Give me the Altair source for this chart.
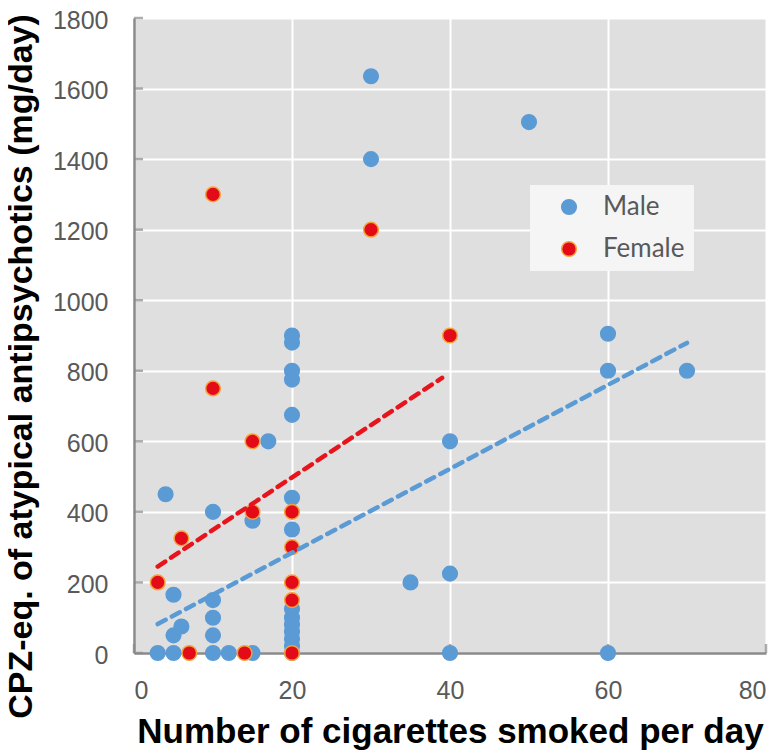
import altair as alt
import pandas as pd

# ---- data ----
male_x = [30, 50, 30, 20, 20, 20, 20, 20, 60, 60, 70, 17, 40, 4, 20, 10, 15, 20, 40, 35,
          5, 10, 20, 20, 20, 20, 20, 20, 10, 6, 10, 5, 3, 5, 10, 12, 15, 20, 40, 60]
male_y = [1635, 1505, 1400, 900, 880, 800, 775, 675, 905, 800, 800, 600, 600, 450, 440, 400, 375, 350, 225, 200,
          165, 150, 125, 100, 80, 60, 40, 20, 100, 75, 50, 50, 0, 0, 0, 0, 0, 0, 0, 0]
female_x = [10, 30, 40, 10, 15, 15, 20, 6, 20, 3, 20, 20, 7, 14, 20]
female_y = [1300, 1200, 900, 750, 600, 400, 400, 325, 300, 200, 200, 150, 0, 0, 0]

male_fit_x = [3, 70]
male_fit_y = [82, 879]
female_fit_x = [3, 39]
female_fit_y = [245, 780]

x_ticks = [0, 20, 40, 60, 80]
y_ticks = [0, 200, 400, 600, 800, 1000, 1200, 1400, 1600, 1800]
groups = ["Male", "Female"]

BLUE = "#5b9bd5"
RED = "#e30b17"
ORANGE = "#f4a23a"
AXC = "#8a8a8a"
LABC = "#595959"

H = 635

pts = pd.DataFrame({
    "x": male_x + female_x,
    "y": male_y + female_y,
    "sex": ["Male"] * len(male_x) + ["Female"] * len(female_x),
    "ord": list(range(len(male_x) + len(female_x))),
})
fits = pd.DataFrame({
    "x": male_fit_x + female_fit_x,
    "y": male_fit_y + female_fit_y,
    "sex": ["Male"] * len(male_fit_x) + ["Female"] * len(female_fit_x),
})
ytk = pd.DataFrame({"y": y_ticks})
xtk = pd.DataFrame({"x": x_ticks})

xs = alt.Scale(domain=[0, 80], nice=False, zero=False)
ys = alt.Scale(domain=[0, 1800], nice=False)

leg = alt.Legend(
    title=None, orient="none", legendX=396, legendY=167,
    fillColor="#f5f5f5", padding=9, symbolOffset=17, labelOffset=21,
    rowPadding=16, labelFont="Lato", labelFontSize=26, labelColor=LABC,
    symbolSize=215, symbolStrokeWidth=1.5, symbolType="circle", labelLimit=300,
)

x_axis = alt.Axis(
    values=x_ticks, format="d", title="Number of cigarettes smoked per day",
    titleFont="Liberation Sans", titleFontSize=35, titleFontWeight="bold", titleColor="black",
    titleY=89, titleBaseline="alphabetic",
    labelFont="Liberation Sans", labelFontSize=25, labelColor=LABC, labelPadding=25,
    ticks=False, domainColor=AXC, domainWidth=2.5, gridColor="white", gridWidth=2,
)
y_axis = alt.Axis(
    values=y_ticks, format="d", title="CPZ-eq. of atypical antipsychotics (mg/day)",
    titleFont="Liberation Sans", titleFontSize=34, titleFontWeight="bold", titleColor="black",
    titleX=-103, titleY=348, titleBaseline="alphabetic", titleAlign="center",
    labelFont="Liberation Sans", labelFontSize=25, labelColor=LABC, labelPadding=26,
    labelOffset=2,
    ticks=False, domainColor=AXC, domainWidth=2.5, gridColor="white", gridWidth=2,
)

X = lambda: alt.X("x:Q", scale=xs, axis=x_axis)
Y = lambda: alt.Y("y:Q", scale=ys, axis=y_axis)

points = alt.Chart(pts).mark_circle(size=215, strokeWidth=1.5, opacity=1).encode(
    x=X(), y=Y(),
    fill=alt.Fill("sex:N", scale=alt.Scale(domain=groups, range=[BLUE, RED]), legend=leg),
    stroke=alt.Stroke("sex:N", scale=alt.Scale(domain=groups, range=[BLUE, ORANGE]), legend=leg),
    order=alt.Order("ord:Q"),
)

ytick = alt.Chart(ytk).mark_tick(
    orient="horizontal", size=9, thickness=2.5, color=AXC
).encode(y=Y(), x=alt.value(4.5))

xtick = alt.Chart(xtk).mark_tick(
    orient="vertical", size=9, thickness=2.5, color=AXC
).encode(x=X(), y=alt.value(H - 4.5))

lines = alt.Chart(fits).mark_line(strokeWidth=4.5, strokeDash=[9, 7], strokeCap="round").encode(
    x=X(), y=Y(),
    detail="sex:N",
    color=alt.Color("sex:N", scale=alt.Scale(domain=groups, range=[BLUE, "#e8141c"]), legend=None),
)

chart = alt.layer(ytick, xtick, points, lines).resolve_scale(color="independent").properties(
    width=632, height=H,
    autosize=alt.AutoSizeParams(type="none"),
    padding={"left": 126, "top": 10, "right": 10, "bottom": 100},
).configure_view(fill="#e0dfdf", stroke="transparent")

chart.save("out.html", embed_options={"renderer": "svg", "actions": False})
